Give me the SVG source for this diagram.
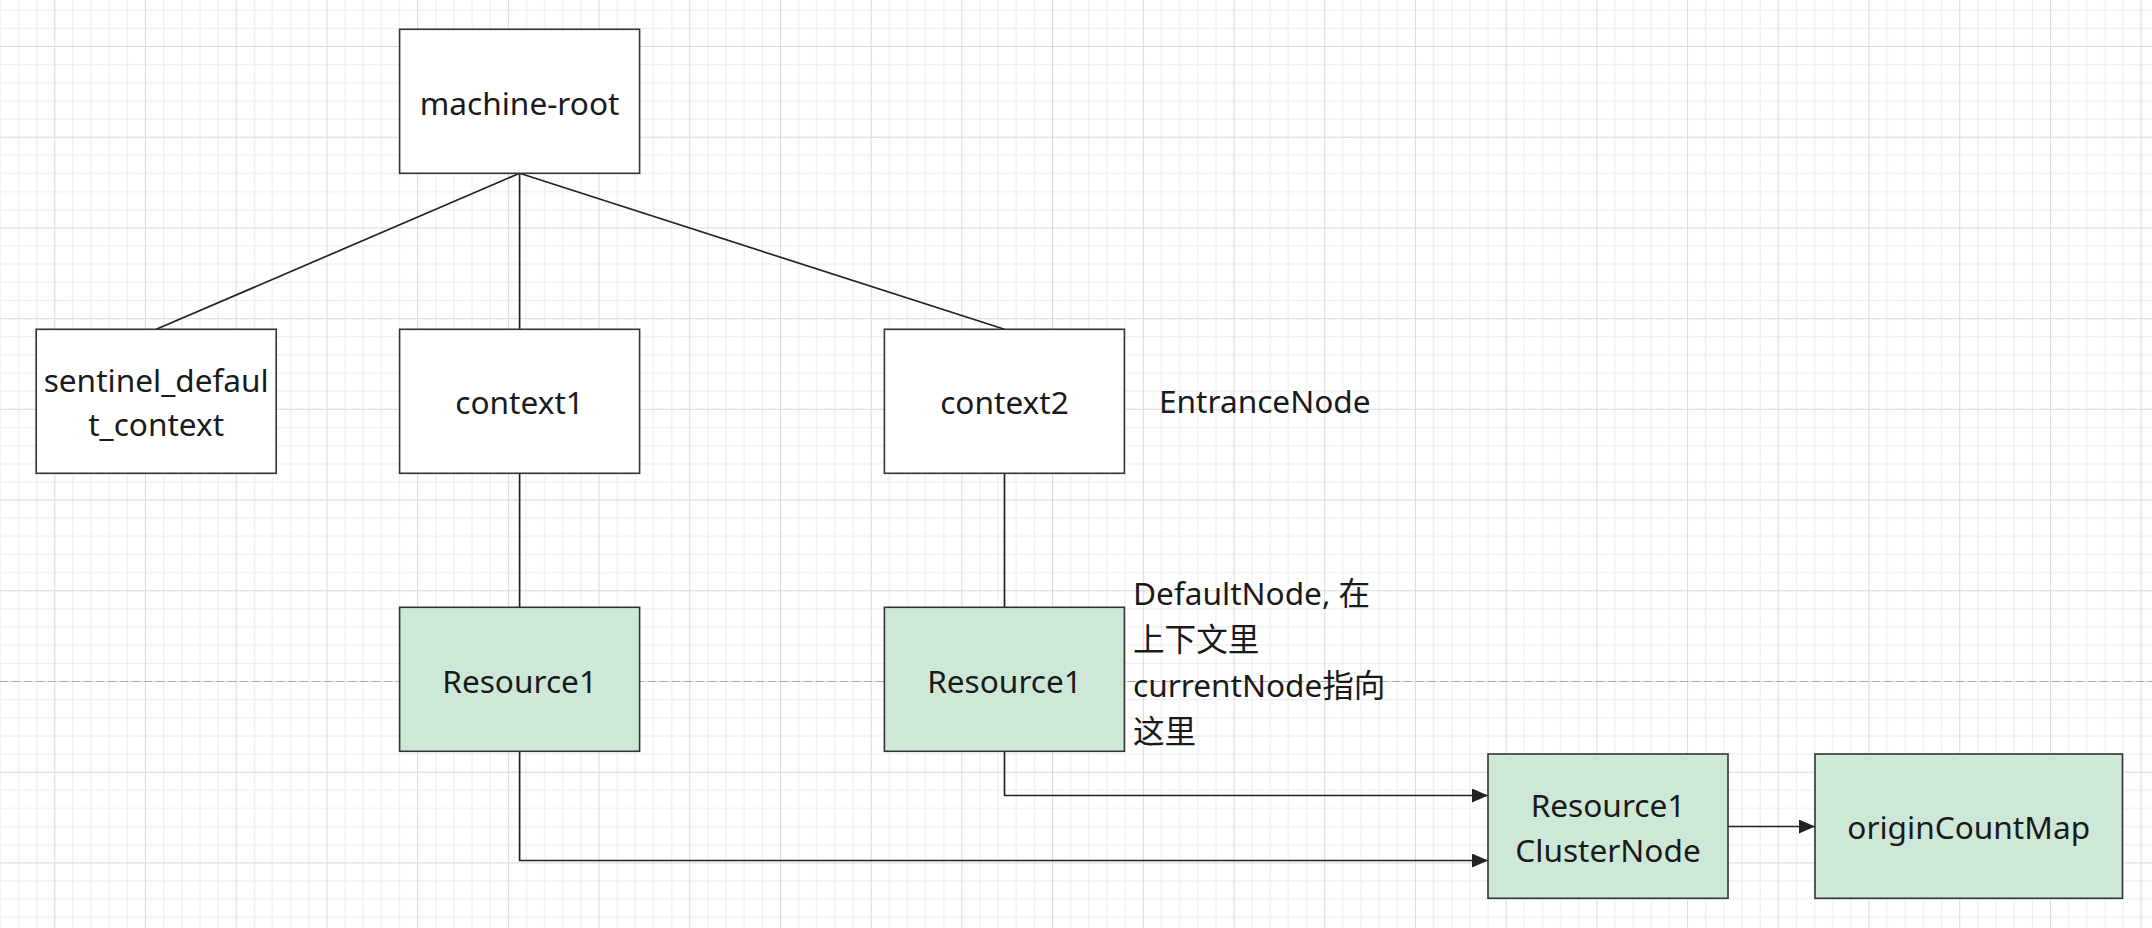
<svg xmlns="http://www.w3.org/2000/svg" width="2152" height="928" viewBox="0 0 2152 928">
<style>
.box{fill:#ffffff;stroke:#333333;stroke-width:1.6}
.green{fill:#cee8d7;stroke:#333333;stroke-width:1.6}
.t{font-family:"Noto Sans","Noto Sans CJK SC",sans-serif;font-size:31.6px;fill:#1a1a1a;text-anchor:middle}
.l{font-family:"Noto Sans","Noto Sans CJK SC",sans-serif;font-size:31.6px;fill:#1a1a1a;text-anchor:start}
.c{fill:none;stroke:#222222;stroke-width:1.7}
</style>
<defs>
<pattern id="grid" patternUnits="userSpaceOnUse" x="54.3" y="46" width="90.71" height="90.71">
<rect x="0" y="0" width="90.71" height="90.71" fill="#ffffff"/>
<g fill="#ececec">
<rect x="18.14" y="0" width="1" height="90.71"/>
<rect x="36.28" y="0" width="1" height="90.71"/>
<rect x="54.43" y="0" width="1" height="90.71"/>
<rect x="72.57" y="0" width="1" height="90.71"/>
<rect x="0" y="18.14" width="90.71" height="1"/>
<rect x="0" y="36.28" width="90.71" height="1"/>
<rect x="0" y="54.43" width="90.71" height="1"/>
<rect x="0" y="72.57" width="90.71" height="1"/>
</g>
<g fill="#dadada">
<rect x="0" y="0" width="1" height="90.71"/>
<rect x="0" y="0" width="90.71" height="1"/>
</g>
</pattern>
<marker id="arrow" markerUnits="userSpaceOnUse" markerWidth="17" markerHeight="15" refX="16" refY="7" orient="auto">
<path d="M0,0 L16,7 L0,14 Z" fill="#222222"/>
</marker>
</defs>
<rect x="0" y="0" width="2152" height="928" fill="url(#grid)"/>
<line x1="0" y1="681.5" x2="2152" y2="681.5" stroke="#aaaaaa" stroke-width="1" stroke-dasharray="8 4"/>

<g id="connectors">
<path class="c" d="M519.6,173.3 L156.2,329.3"/>
<path class="c" d="M519.6,173.3 L519.6,329.3"/>
<path class="c" d="M519.6,173.3 L1004.5,329.3"/>
<path class="c" d="M519.6,473.3 V607.3"/>
<path class="c" d="M1004.5,473.3 V607.3"/>
<path class="c" d="M519.6,751.3 V860.5 H1488" marker-end="url(#arrow)"/>
<path class="c" d="M1004.5,751.3 V795.5 H1488" marker-end="url(#arrow)"/>
<path class="c" d="M1728,826.5 H1815" marker-end="url(#arrow)"/>
</g>

<g id="machine-root">
<rect class="box" x="399.6" y="29.3" width="240" height="144"/>
<text class="t" x="519.6" y="114.5">machine-root</text>
</g>
<g id="sentinel-default-context">
<rect class="box" x="36.2" y="329.3" width="240" height="144"/>
<text class="t" x="156.2" y="391.7">sentinel_defaul</text>
<text class="t" x="156.2" y="435.5">t_context</text>
</g>
<g id="context1">
<rect class="box" x="399.6" y="329.3" width="240" height="144"/>
<text class="t" x="519.6" y="414">context1</text>
</g>
<g id="context2">
<rect class="box" x="884.4" y="329.3" width="240" height="144"/>
<text class="t" x="1004.5" y="414">context2</text>
</g>
<g id="entrance-node-label">
<text class="l" x="1159" y="413.3">EntranceNode</text>
</g>
<g id="resource1-left">
<rect class="green" x="399.6" y="607.3" width="240" height="144"/>
<text class="t" x="519.6" y="692.5">Resource1</text>
</g>
<g id="resource1-right">
<rect class="green" x="884.4" y="607.3" width="240" height="144"/>
<text class="t" x="1004.5" y="692.5">Resource1</text>
</g>
<g id="default-node-label">
<text class="l" x="1133" y="605">DefaultNode, 在</text>
<text class="l" x="1133" y="651">上下文里</text>
<text class="l" x="1133" y="696.7">currentNode指向</text>
<text class="l" x="1133" y="742.5">这里</text>
</g>
<g id="cluster-node">
<rect class="green" x="1488" y="754" width="240" height="144.3"/>
<text class="t" x="1608" y="816.7">Resource1</text>
<text class="t" x="1608" y="861.7">ClusterNode</text>
</g>
<g id="origin-count-map">
<rect class="green" x="1815" y="754" width="307.5" height="144.3"/>
<text class="t" x="1968.7" y="839.3">originCountMap</text>
</g>
</svg>
